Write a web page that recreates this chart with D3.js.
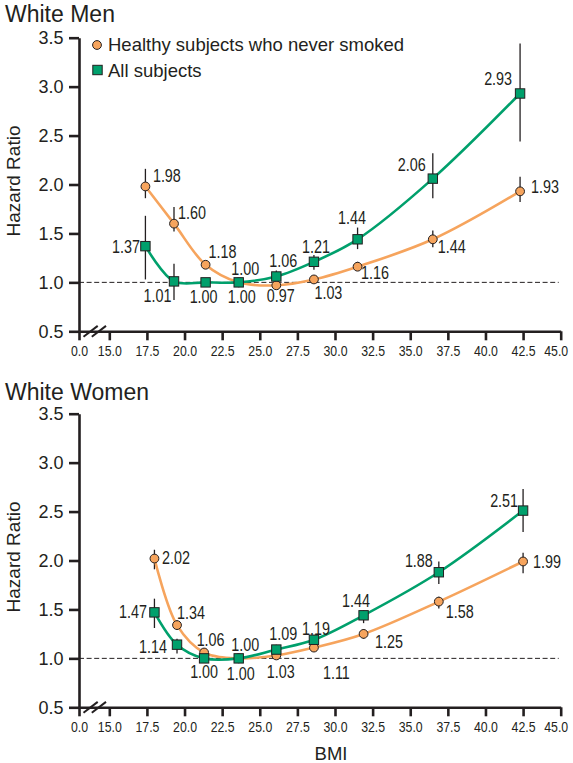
<!DOCTYPE html>
<html>
<head>
<meta charset="utf-8">
<script src="https://cdn.jsdelivr.net/npm/d3@7"></script>
<style>
  body { margin: 0; background: #fff; }
  svg { display: block; }
</style>
</head>
<body>
<svg id="chart" width="573" height="763"></svg>
<script>
// ---- Data -------------------------------------------------------------
const panelTitles = ["White Men", "White Women"];
const seriesNames = ["Healthy subjects who never smoked", "All subjects"];
const xTicks = [0, 15, 17.5, 20, 22.5, 25, 27.5, 30, 32.5, 35, 37.5, 40, 42.5, 45];
const yTicks = [0.5, 1.0, 1.5, 2.0, 2.5, 3.0, 3.5];

// Mean BMI of each category
const menBMI   = [17.4, 19.3, 21.4, 23.6, 26.1, 28.6, 31.5, 36.5, 42.3];
const womenBMI = [18.0, 19.5, 21.3, 23.6, 26.1, 28.6, 31.9, 36.9, 42.5];

// Hazard ratios with 95% CI (null = reference category)
const menNeverHR = [1.98, 1.60, 1.18, 1.00, 0.97, 1.03, 1.16, 1.44, 1.93];
const menNeverLo = [1.86, 1.52, 1.14, null, 0.93, 1.00, 1.12, 1.36, 1.82];
const menNeverHi = [2.16, 1.77, 1.22, null, 1.04, 1.07, 1.21, 1.53, 2.08];

const menAllHR = [1.37, 1.01, 1.00, 1.00, 1.06, 1.21, 1.44, 2.06, 2.93];
const menAllLo = [1.03, 0.82, 0.96, null, 1.01, 1.13, 1.34, 1.86, 2.44];
const menAllHi = [1.68, 1.19, 1.04, null, 1.12, 1.28, 1.56, 2.32, 3.44];

const womenNeverHR = [2.02, 1.34, 1.06, 1.00, 1.03, 1.11, 1.25, 1.58, 1.99];
const womenNeverLo = [1.91, 1.29, 1.02, null, 1.00, 1.07, 1.20, 1.51, 1.87];
const womenNeverHi = [2.11, 1.39, 1.10, null, 1.06, 1.15, 1.30, 1.63, 2.08];

const womenAllHR = [1.47, 1.14, 1.00, 1.00, 1.09, 1.19, 1.44, 1.88, 2.51];
const womenAllLo = [1.31, 1.05, 0.97, null, 1.05, 1.14, 1.36, 1.76, 2.29];
const womenAllHi = [1.61, 1.20, 1.03, null, 1.14, 1.24, 1.49, 1.99, 2.73];

// ---- Label placement (dx, dy from marker centre, text-anchor) ----------
const menNeverLab = [[7.5,-4.5,"start"],[4,-4.5,"start"],[3,-7,"start"],[6.5,-7,"middle"],[4.5,17,"middle"],[0.5,20,"start"],[3.5,12.5,"start"],[5,14,"start"],[11,2,"start"]];
const menAllLab   = [[-5.5,7,"end"],[-2.5,21,"end"],[-2,21,"middle"],[3,21,"middle"],[7,-9.5,"middle"],[2,-9,"middle"],[-5.5,-15,"middle"],[-7,-7.5,"end"],[-8,-8,"end"]];
const womenNeverLab = [[7.5,5.5,"start"],[0,-6,"start"],[6.5,-6.5,"middle"],[6.5,-7,"middle"],[4.5,22.5,"middle"],[9,31,"start"],[11.5,14,"start"],[7,16.5,"start"],[10,6.5,"start"]];
const womenAllLab   = [[-7.5,6,"end"],[-10,8.5,"end"],[0,20,"middle"],[2,21.5,"middle"],[7,-9.5,"middle"],[2,-5,"middle"],[-7.5,-8,"middle"],[-6,-5,"end"],[-5,-3.5,"end"]];

// ---- Styles -------------------------------------------------------------
const ORANGE = "#F6A45D";
const GREEN = "#00A06C";
const INK = "#231F20";
const SANS = "'Liberation Sans', Arial, Helvetica, sans-serif";
const NARROW = "'Liberation Sans Narrow', 'Arial Narrow', sans-serif";

const svg = d3.select("#chart");

const x = d3.scaleLinear().domain([0, 15, 45]).range([79, 109.3, 560.7]);

const panels = [
  { title: panelTitles[0], off: 0, bmi: menBMI,
    series: [
      { hr: menNeverHR, lo: menNeverLo, hi: menNeverHi, lab: menNeverLab, color: ORANGE, shape: "circle" },
      { hr: menAllHR, lo: menAllLo, hi: menAllHi, lab: menAllLab, color: GREEN, shape: "square" }
    ] },
  { title: panelTitles[1], off: 376, bmi: womenBMI,
    series: [
      { hr: womenNeverHR, lo: womenNeverLo, hi: womenNeverHi, lab: womenNeverLab, color: ORANGE, shape: "circle" },
      { hr: womenAllHR, lo: womenAllLo, hi: womenAllHi, lab: womenAllLab, color: GREEN, shape: "square" }
    ] }
];

function drawMarker(sel, shape, color, cx, cy) {
  if (shape === "circle") {
    sel.append("circle").attr("cx", cx).attr("cy", cy).attr("r", 4.4)
      .attr("fill", color).attr("stroke", INK).attr("stroke-width", 1);
  } else {
    sel.append("rect").attr("x", cx - 4.7).attr("y", cy - 4.7)
      .attr("width", 9.4).attr("height", 9.4)
      .attr("fill", color).attr("stroke", INK).attr("stroke-width", 1);
  }
}

panels.forEach((p, pi) => {
  const g = svg.append("g");
  const y = d3.scaleLinear().domain([0.5, 3.5]).range([331.3 + p.off, 37.7 + p.off]);

  // Title
  g.append("text").attr("x", 5).attr("y", 22 + p.off + pi * 2)
    .attr("font-family", SANS).attr("font-size", 23).attr("fill", INK)
    .text(p.title);

  // Y axis label
  g.append("text")
    .attr("transform", `translate(20,${181 + p.off}) rotate(-90)`)
    .attr("text-anchor", "middle")
    .attr("font-family", SANS).attr("font-size", 19).attr("fill", INK)
    .text("Hazard Ratio");

  // Reference line at HR = 1
  g.append("line")
    .attr("x1", x(0)).attr("x2", x(45) - 2)
    .attr("y1", y(1)).attr("y2", y(1))
    .attr("stroke", INK).attr("stroke-width", 1)
    .attr("stroke-dasharray", "5,2.6");

  // Axes
  const yAxis = g.append("g").attr("transform", `translate(${x(0)},0)`)
    .call(d3.axisLeft(y).tickValues(yTicks).tickSize(10).tickSizeOuter(0).tickPadding(5.5)
      .tickFormat(d3.format(".1f")));
  yAxis.selectAll("text").attr("font-family", SANS).attr("font-size", 18).attr("fill", INK);

  const xAxis = g.append("g").attr("transform", `translate(0,${y(0.5)})`)
    .call(d3.axisBottom(x).tickValues(xTicks).tickSize(9).tickSizeOuter(0).tickPadding(5)
      .tickFormat(d3.format(".1f")));
  xAxis.selectAll("text").attr("class", "narrow").attr("font-family", NARROW)
    .attr("font-size", 15).attr("fill", INK);
  // keep the last tick label inside the page edge
  xAxis.selectAll(".tick").filter(d => d === 45).select("text").attr("dx", -5);

  [yAxis, xAxis].forEach(a => {
    a.select(".domain").attr("stroke", INK).attr("stroke-width", 2.6);
    a.selectAll(".tick line").attr("stroke", INK).attr("stroke-width", 2.6);
  });

  // Axis break on the x axis
  [0, 8.3].forEach(o => {
    g.append("line")
      .attr("x1", 83.5 + o).attr("y1", y(0.5) + 5.4)
      .attr("x2", 97.7 + o).attr("y2", y(0.5) - 5.4)
      .attr("stroke", INK).attr("stroke-width", 2);
  });

  // Error bars
  p.series.forEach(s => {
    s.hr.forEach((v, i) => {
      if (s.lo[i] == null) return;
      g.append("line")
        .attr("x1", x(p.bmi[i])).attr("x2", x(p.bmi[i]))
        .attr("y1", y(s.lo[i])).attr("y2", y(s.hi[i]))
        .attr("stroke", INK).attr("stroke-width", 1.3);
    });
  });

  // Smoothed series lines
  const line = d3.line().x(d => x(d[0])).y(d => y(d[1])).curve(d3.curveCatmullRom.alpha(0.5));
  p.series.forEach(s => {
    g.append("path")
      .datum(s.hr.map((v, i) => [p.bmi[i], v]))
      .attr("d", line).attr("fill", "none")
      .attr("stroke", s.color).attr("stroke-width", 2.6);
  });

  // Markers and value labels
  p.series.forEach(s => {
    s.hr.forEach((v, i) => {
      const cx = x(p.bmi[i]), cy = y(v);
      drawMarker(g, s.shape, s.color, cx, cy);
      const [dx, dy, anchor] = s.lab[i];
      g.append("text").attr("class", "narrow")
        .attr("x", cx + dx).attr("y", cy + dy)
        .attr("text-anchor", anchor)
        .attr("font-family", NARROW).attr("font-size", 17.5).attr("fill", INK)
        .text(d3.format(".2f")(v));
    });
  });

  // Legend (top panel only)
  if (pi === 0) {
    drawMarker(g, "circle", ORANGE, 97, 45);
    g.append("text").attr("x", 108).attr("y", 51)
      .attr("font-family", SANS).attr("font-size", 18.5).attr("fill", INK)
      .text(seriesNames[0]);
    drawMarker(g, "square", GREEN, 97.5, 70);
    g.append("text").attr("x", 108).attr("y", 76.5)
      .attr("font-family", SANS).attr("font-size", 18.5).attr("fill", INK)
      .text(seriesNames[1]);
  }

  // X axis title
  if (pi === 1) {
    g.append("text").attr("x", 331).attr("y", 760)
      .attr("text-anchor", "middle")
      .attr("font-family", SANS).attr("font-size", 18.5).attr("fill", INK)
      .text("BMI");
  }
});

// Condensed labels: fall back to horizontally compressed glyphs when no narrow face exists
(function () {
  const ctx = document.createElement("canvas").getContext("2d");
  ctx.font = "40px 'Liberation Sans Narrow', monospace";
  const a = ctx.measureText("1.98 0.5").width;
  ctx.font = "40px monospace";
  const b = ctx.measureText("1.98 0.5").width;
  if (Math.abs(a - b) < 0.5) {
    svg.selectAll("text.narrow").each(function () {
      const t = d3.select(this).attr("font-family", SANS);
      const w = this.getComputedTextLength();
      t.attr("textLength", w * 0.82).attr("lengthAdjust", "spacingAndGlyphs");
    });
  }
})();
</script>
</body>
</html>
